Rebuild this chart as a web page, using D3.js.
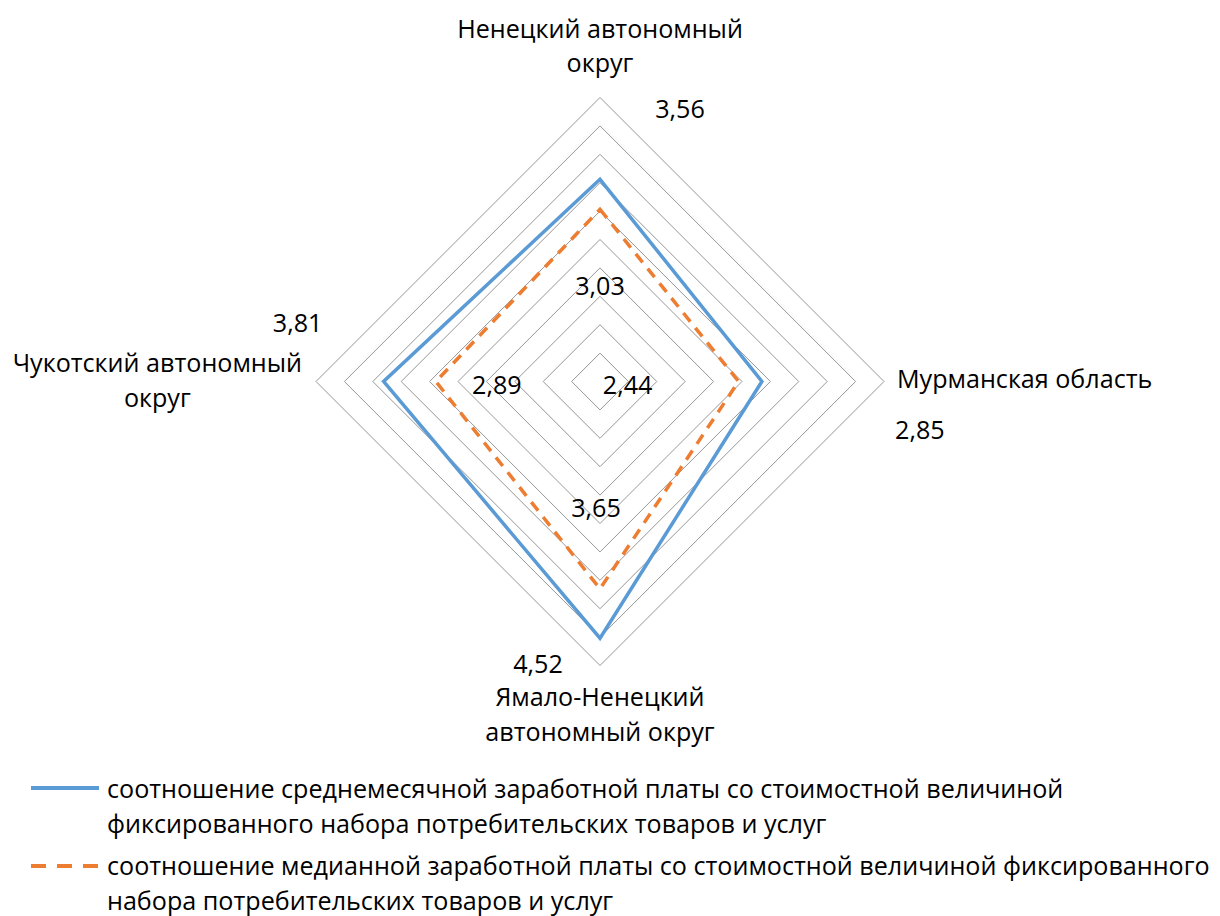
<!DOCTYPE html>
<html><head><meta charset="utf-8">
<script src="https://cdn.jsdelivr.net/npm/d3@7"></script>
<style>
html,body{margin:0;padding:0;background:#fff;}
svg text{font-family:"Open Sans","Noto Sans",sans-serif;fill:#000;}
</style></head>
<body><svg id="chart" width="1220" height="916"></svg>
<script>
// ---- data ----
const categories = ["Ненецкий автономный округ", "Мурманская область", "Ямало-Ненецкий автономный округ", "Чукотский автономный округ"];
const categoryLines = [["Ненецкий автономный", "округ"], ["Мурманская область"], ["Ямало-Ненецкий", "автономный округ"], ["Чукотский автономный", "округ"]];
const seriesNames = [
  "соотношение среднемесячной заработной платы со стоимостной величиной фиксированного набора потребительских товаров и услуг",
  "соотношение медианной заработной платы со стоимостной величиной фиксированного набора потребительских товаров и услуг"
];
const legendLines = [
  ["соотношение среднемесячной заработной платы со стоимостной величиной", "фиксированного набора потребительских товаров и услуг"],
  ["соотношение медианной заработной платы со стоимостной величиной фиксированного", "набора потребительских товаров и услуг"]
];
const meanWageRatio = [3.56, 2.85, 4.52, 3.81];
const medianWageRatio = [3.03, 2.44, 3.65, 2.89];
const ringTicks = [0.5, 1, 1.5, 2, 2.5, 3, 3.5, 4, 4.5, 5];

(function () {
// ---- layout ----
const svg = d3.select("#chart");
const cx = 600, cy = 381.5, R = 284;
const rScale = d3.scaleLinear().domain([0, 5]).range([0, R]);
const angle = i => i * Math.PI / 2;
const colors = ["#5B9BD5", "#ED7D31"];

// fit font size to reference width of one label
const probe = svg.append("text").style("font-size", "100px").text("Ненецкий автономный");
const fs = Math.min(26, 100 * 286 / probe.node().getComputedTextLength());
probe.remove();

const g = svg.append("g").attr("transform", `translate(${cx},${cy})`);

// grid rings
const ringLine = d3.lineRadial().angle((d, i) => angle(i)).radius(d => rScale(d)).curve(d3.curveLinearClosed);
g.selectAll("path.ring").data(ringTicks).join("path")
  .attr("class", "ring")
  .attr("d", t => ringLine(categories.map(() => t)))
  .attr("fill", "none").attr("stroke", "#969696").attr("stroke-width", 1);

// series
const seriesData = [meanWageRatio, medianWageRatio];
g.selectAll("path.series").data(seriesData).join("path")
  .attr("class", "series")
  .attr("d", d => ringLine(d))
  .attr("fill", "none")
  .attr("stroke", (d, i) => colors[i])
  .attr("stroke-width", 3.5)
  .attr("stroke-linejoin", "miter")
  .attr("stroke-dasharray", (d, i) => i === 0 ? null : "11,8");

// data labels: offsets (dx, dy) from the point per series/category
const labelOffsets = [
  [[80, -61], [158, 57], [-62, 35], [-86, -50]],
  [[0, 86], [-111, 12], [-4, -72], [61, 12]]
];
const pt = (v, i) => {
  const r = rScale(v), a = angle(i);
  return [r * Math.sin(a), -r * Math.cos(a)];
};
seriesData.forEach((s, si) => {
  g.selectAll(null).data(s).join("text")
    .attr("x", (v, i) => pt(v, i)[0] + labelOffsets[si][i][0])
    .attr("y", (v, i) => pt(v, i)[1] + labelOffsets[si][i][1])
    .attr("text-anchor", "middle")
    .style("font-size", fs + "px")
    .text(v => d3.format(".2f")(v).replace(".", ","));
});

// category labels
const topLbl = g.append("text").attr("text-anchor", "middle").style("font-size", fs + "px");
categoryLines[0].forEach((l, k) => topLbl.append("tspan").attr("x", 0).attr("y", -R - 26 - 34 * (categoryLines[0].length - 1 - k)).text(l));
g.append("text").attr("x", R + 13).attr("y", 6).attr("text-anchor", "start").style("font-size", fs + "px").text(categoryLines[1][0]);
const botLbl = g.append("text").attr("text-anchor", "middle").style("font-size", fs + "px");
categoryLines[2].forEach((l, k) => botLbl.append("tspan").attr("x", 0).attr("y", R + 40 + 35 * k).text(l));
const lp = g.append("text").style("font-size", fs + "px").text(categoryLines[3][0]);
const lw = lp.node().getComputedTextLength();
lp.remove();
const leftLbl = g.append("text").attr("text-anchor", "middle").style("font-size", fs + "px");
categoryLines[3].forEach((l, k) => leftLbl.append("tspan").attr("x", -R - 14 - lw / 2).attr("y", -9.5 + 35 * k).text(l));

// legend
const lprobe = svg.append("text").style("font-size", "100px").text(legendLines[1][0]);
const lfs = Math.min(fs, 100 * 1105 / lprobe.node().getComputedTextLength());
lprobe.remove();
const legendY = [[798, 833], [875, 910]];
const legendLineY = [788, 866];
const leg = svg.append("g");
seriesNames.forEach((name, i) => {
  leg.append("line").attr("x1", 31).attr("x2", 99).attr("y1", legendLineY[i]).attr("y2", legendLineY[i])
    .attr("stroke", colors[i]).attr("stroke-width", 4)
    .attr("stroke-dasharray", i === 0 ? null : "15,11");
  const t = leg.append("text").style("font-size", lfs + "px");
  legendLines[i].forEach((l, k) => t.append("tspan").attr("x", 107).attr("y", legendY[i][k]).text(l));
});
})();
</script></body></html>
